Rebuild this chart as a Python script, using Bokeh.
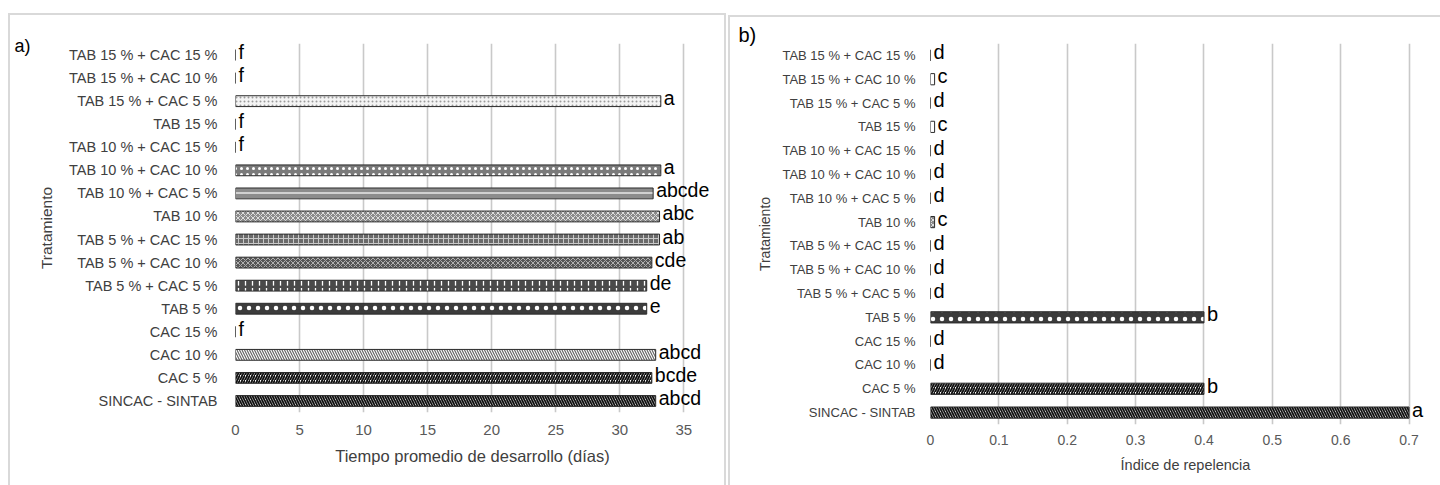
from bokeh.plotting import figure
from bokeh.models import ColumnDataSource, Range1d, FixedTicker, Row, Column
from bokeh.embed import file_html
from bokeh.resources import INLINE
from bokeh.core.properties import value

# ---------------- data (bottom -> top, as drawn) ----------------
categories = ["SINCAC - SINTAB", "CAC 5 %", "CAC 10 %", "CAC 15 %", "TAB 5 %",
              "TAB 5 % + CAC 5 %", "TAB 5 % + CAC 10 %", "TAB 5 % + CAC 15 %",
              "TAB 10 %", "TAB 10 % + CAC 5 %", "TAB 10 % + CAC 10 %",
              "TAB 10 % + CAC 15 %", "TAB 15 %", "TAB 15 % + CAC 5 %",
              "TAB 15 % + CAC 10 %", "TAB 15 % + CAC 15 %"]
tiempo = [32.8, 32.5, 32.8, 0, 32.1, 32.1, 32.5, 33.1, 33.1, 32.6, 33.2, 0, 0, 33.2, 0, 0]
letras_a = ["abcd", "bcde", "abcd", "f", "e", "de", "cde", "ab", "abc", "abcde",
            "a", "f", "f", "a", "f", "f"]
repelencia = [0.70, 0.40, 0, 0, 0.40, 0, 0, 0, 0.006, 0, 0, 0, 0.006, 0, 0.006, 0]
letras_b = ["a", "b", "d", "d", "b", "d", "d", "d", "c", "d", "d", "d", "c", "d", "c", "d"]
ticks_a = [0, 5, 10, 15, 20, 25, 30, 35]
ticks_b = [0, 0.1, 0.2, 0.3, 0.4, 0.5, 0.6, 0.7]

# ---------------- styles per category ----------------
fills = ["#ffffff", "#ffffff", "#ffffff", "#ffffff", "#3c3c3c", "#4a4a4a", "#555555",
         "#6a6a6a", "#8a8a8a", "#8c8c8c", "#7a7a7a", "#ffffff", "#ffffff", "#f4f4f4",
         "#ffffff", "#ffffff"]
hatches = ["\\", "/", "\\", " ", ".", ":", "x", "+", "x", "-", ".", " ", " ", ".", " ", " "]
hatch_cols = ["#111111", "#111111", "#666666", "#000000", "#ffffff", "#ffffff", "#b0b0b0",
              "#c8c8c8", "#dddddd", "#ffffff", "#ffffff", "#000000", "#000000", "#9a9a9a",
              "#000000", "#000000"]
hatch_scales = [5, 5, 5, 5, 9, 7, 5, 5, 5, 6, 6, 5, 5, 4, 5, 5]
hatch_weights = [1.8, 1.9, 1.2, 1, 1.5, 1.3, 1, 1, 1, 1.2, 1.3, 1, 1, 1, 1, 1]

FONT = "Liberation Sans"
GRID = "#c9c9c9"


def make_panel(vals, letters, xmax, ticks, xtitle, tag, width, height, mb_left, mb_right,
               mb_top, mb_bottom, ylab_size, xlab_size, xtitle_size, ytitle_size,
               letter_size, ystand, ytitle_stand, xstand, xtitle_stand, tag_offset,
               tag_standoff, tag_size, margin, styles):
    src = ColumnDataSource(dict(cat=categories, v=vals, lab=letters, fill=fills,
                                hatch=hatches, hcol=hatch_cols, hscale=hatch_scales,
                                hw=hatch_weights))
    p = figure(y_range=categories, x_range=Range1d(0, xmax), width=width, height=height,
               output_backend="svg", toolbar_location=None, min_border_left=mb_left,
               min_border_right=mb_right, min_border_top=mb_top,
               min_border_bottom=mb_bottom, margin=margin, styles=styles)
    p.outline_line_color = None
    p.y_range.range_padding = 0
    p.hbar(y="cat", left=0, right="v", height=0.47, source=src, fill_color="fill",
           line_color="#2b2b2b", line_width=1, hatch_pattern="hatch",
           hatch_color="hcol", hatch_scale="hscale", hatch_weight="hw")
    p.text(x="v", y="cat", text="lab", source=src, x_offset=3, y_offset=-3,
           text_font=value(FONT), text_font_size=letter_size, text_baseline="middle",
           text_align="left", text_color="#000000")

    p.ygrid.grid_line_color = None
    p.xgrid.grid_line_color = GRID
    p.xgrid.grid_line_width = 1.6
    p.xaxis.ticker = FixedTicker(ticks=ticks)
    p.xaxis.major_label_overrides = {0: "0"}
    for ax in (p.xaxis, p.yaxis):
        ax.axis_line_color = None
        ax.major_tick_line_color = None
        ax.minor_tick_line_color = None
        ax.major_tick_out = 0
        ax.major_tick_in = 0
        ax.minor_tick_out = 0
        ax.major_label_text_font = FONT
        ax.axis_label_text_font = FONT
        ax.axis_label_text_font_style = "normal"
        ax.axis_label_text_color = "#404040"
    p.yaxis.major_label_text_font_size = ylab_size
    p.yaxis.major_label_text_color = "#404040"
    p.yaxis.major_label_standoff = ystand
    p.yaxis.axis_label = "Tratamiento"
    p.yaxis.axis_label_text_font_size = ytitle_size
    p.yaxis.axis_label_standoff = ytitle_stand
    p.xaxis.major_label_text_font_size = xlab_size
    p.xaxis.major_label_text_color = "#595959"
    p.xaxis.major_label_standoff = xstand
    p.xaxis.axis_label = xtitle
    p.xaxis.axis_label_text_font_size = xtitle_size
    p.xaxis.axis_label_standoff = xtitle_stand

    p.title.text = tag
    p.title.text_font = FONT
    p.title.text_font_size = tag_size
    p.title.text_font_style = "normal"
    p.title.text_color = "#000000"
    p.title.align = "left"
    p.title.offset = tag_offset
    p.title.standoff = tag_standoff
    return p


pa = make_panel(tiempo, letras_a, 37, ticks_a, "Tiempo promedio de desarrollo (días)", "a)",
                width=718, height=472, mb_left=225, mb_right=19, mb_top=28, mb_bottom=75,
                ylab_size="14.5px", xlab_size="15px", xtitle_size="16.5px",
                ytitle_size="15.5px", letter_size="19.5px", ystand=18, ytitle_stand=11,
                xstand=12, xtitle_stand=9, tag_offset=-221, tag_standoff=-24,
                tag_size="18px", margin=(13, 0, 0, 8),
                styles={"border-top": "2px solid #d9d9d9", "border-left": "2px solid #d9d9d9",
                        "border-right": "2px solid #d9d9d9"})

pb = make_panel(repelencia, letras_b, 0.746, ticks_b, "Índice de repelencia", "b)",
                width=712, height=470, mb_left=200, mb_right=2, mb_top=26, mb_bottom=63,
                ylab_size="13px", xlab_size="14px", xtitle_size="14.5px",
                ytitle_size="14px", letter_size="20px", ystand=15, ytitle_stand=6,
                xstand=10, xtitle_stand=9, tag_offset=-192, tag_standoff=-4,
                tag_size="20px", margin=(15, 0, 0, 2),
                styles={"border-top": "2px solid #d9d9d9", "border-left": "2px solid #d9d9d9"})

layout = Row(children=[Column(children=[pa]), Column(children=[pb])], spacing=0)

open("out.html", "w").write(file_html(layout, INLINE))
